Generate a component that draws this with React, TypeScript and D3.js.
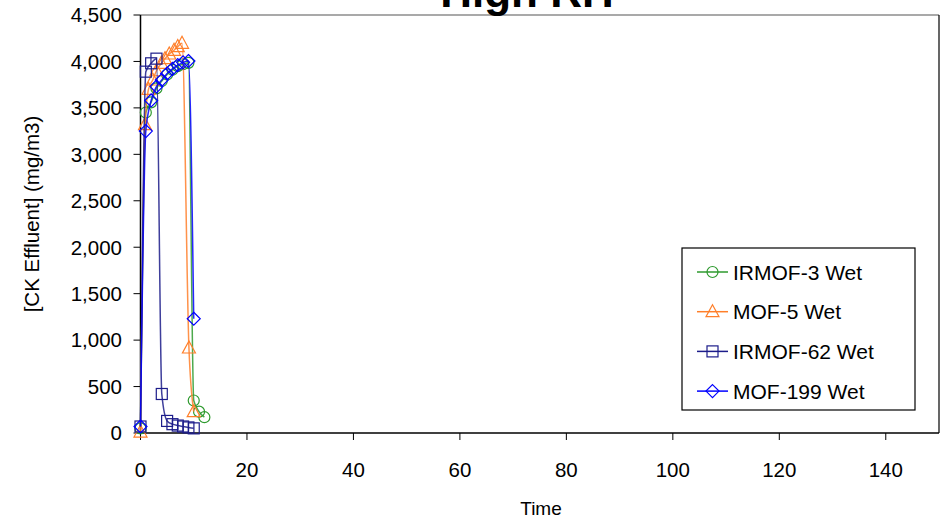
import React from "react";
import * as d3 from "d3";

const xTicks = [0, 20, 40, 60, 80, 100, 120, 140];
const yTicks = [0, 500, 1000, 1500, 2000, 2500, 3000, 3500, 4000, 4500];

const irmof3Time = [0, 1, 2, 3, 4, 5, 6, 7, 8, 9, 10, 11, 12];
const irmof3Vals = [50, 3450, 3560, 3710, 3790, 3860, 3910, 3950, 3970, 3985, 350, 230, 170];

const mof5Time = [0, 0.85, 1.5, 2.3, 3.0, 3.9, 4.6, 5.4, 6.3, 7.0, 7.8, 9.1, 10.0];
const mof5Vals = [10, 3320, 3700, 3800, 3900, 3980, 4030, 4080, 4120, 4160, 4195, 915, 230];

const irmof62Time = [0, 1, 2, 3, 4, 5, 6, 7, 8, 9, 10];
const irmof62Vals = [70, 3890, 3980, 4030, 420, 130, 95, 80, 70, 60, 50];

const mof199Time = [0, 1, 2, 3, 4, 5, 6, 7, 8, 9, 10];
const mof199Vals = [70, 3250, 3580, 3730, 3800, 3870, 3920, 3960, 3990, 4005, 1230];

const seriesNames = ["IRMOF-3 Wet", "MOF-5 Wet", "IRMOF-62 Wet", "MOF-199 Wet"];
const seriesColors = ["#2e9a2e", "#ff7f2a", "#1c1c8a", "#0000ff"];
const seriesMarkers = ["circle", "triangle", "square", "diamond"];

const FONT = "'Liberation Sans', Arial, sans-serif";

function Marker({ type, x, y, color }: { type: string; x: number; y: number; color: string }) {
  const common = { fill: "none", stroke: color, strokeWidth: 1.2 };
  if (type === "circle") return <circle cx={x} cy={y} r={5.5} {...common} />;
  if (type === "square") return <rect x={x - 5.5} y={y - 5.5} width={11} height={11} {...common} />;
  if (type === "triangle")
    return <path d={`M${x},${y - 7}L${x + 6.5},${y + 5}L${x - 6.5},${y + 5}Z`} {...common} />;
  return <path d={`M${x},${y - 6.5}L${x + 6.5},${y}L${x},${y + 6.5}L${x - 6.5},${y}Z`} {...common} />;
}

export default function App() {
  const left = 140.5, right = 939, top = 15, bottom = 433;
  const x = d3.scaleLinear().domain([0, 150]).range([left, right]);
  const y = d3.scaleLinear().domain([0, 4500]).range([bottom, top]);

  const series = [
    { t: irmof3Time, v: irmof3Vals },
    { t: mof5Time, v: mof5Vals },
    { t: irmof62Time, v: irmof62Vals },
    { t: mof199Time, v: mof199Vals },
  ];

  const line = d3
    .line<[number, number]>()
    .x((d) => x(d[0]))
    .y((d) => y(d[1]))
    .curve(d3.curveMonotoneX);

  const fmt = d3.format(",");

  return (
    <svg width={943} height={520} style={{ display: "block", position: "absolute", left: 0, top: 0 }} fontFamily={FONT}>
      <rect x={0} y={0} width={943} height={520} fill="#fff" />
      {/* plot border top/right */}
      <line x1={left} x2={right} y1={top} y2={top} stroke="#555" strokeWidth={1.2} />
      <line x1={right} x2={right} y1={top} y2={bottom} stroke="#000" strokeWidth={1.2} />

      {/* title */}
      <text x={527} y={7} textAnchor="middle" fontSize={44} fontWeight="bold" fill="#000">High RH</text>

      {/* y axis */}
      <line x1={left} x2={left} y1={top} y2={bottom} stroke="#000" strokeWidth={1.5} />
      {yTicks.map((t) => (
        <g key={t}>
          <line x1={left - 7} x2={left} y1={y(t)} y2={y(t)} stroke="#000" strokeWidth={1} />
          <text x={122} y={y(t)} dy="0.36em" textAnchor="end" fontSize={20.5} fill="#000">{fmt(t)}</text>
        </g>
      ))}
      {/* x axis */}
      <line x1={left} x2={right} y1={bottom} y2={bottom} stroke="#000" strokeWidth={1.5} />
      {xTicks.map((t) => (
        <g key={t}>
          <line x1={x(t)} x2={x(t)} y1={bottom} y2={bottom + 7} stroke="#000" strokeWidth={1} />
          <text x={x(t)} y={470} dy="0.36em" textAnchor="middle" fontSize={20.5} fill="#000">{t}</text>
        </g>
      ))}

      <text x={541} y={508} dy="0.36em" textAnchor="middle" fontSize={19} fill="#000">Time</text>
      <text transform="translate(32,214) rotate(-90)" dy="0.36em" textAnchor="middle" fontSize={20.5} fill="#000">
        [CK Effluent] (mg/m3)
      </text>

      {/* series */}
      {series.map((s, i) => {
        const pts: [number, number][] = s.t.map((t, j) => [t, s.v[j]]);
        return (
          <g key={i}>
            <path d={line(pts) || ""} fill="none" stroke={seriesColors[i]} strokeWidth={1.5} strokeOpacity={0.85} />
            {pts.map((p, j) => (
              <Marker key={j} type={seriesMarkers[i]} x={x(p[0])} y={y(p[1])} color={seriesColors[i]} />
            ))}
          </g>
        );
      })}

      {/* legend */}
      <rect x={682} y={248} width={233} height={162} fill="#fff" stroke="#000" strokeWidth={1.2} />
      {seriesNames.map((n, i) => {
        const cy = 272 + i * 39.7;
        return (
          <g key={n}>
            <line x1={697} x2={728} y1={cy} y2={cy} stroke={seriesColors[i]} strokeWidth={1.5} />
            <Marker type={seriesMarkers[i]} x={712.5} y={cy} color={seriesColors[i]} />
            <text x={733} y={cy} dy="0.36em" fontSize={21} fill="#000">{n}</text>
          </g>
        );
      })}
    </svg>
  );
}
